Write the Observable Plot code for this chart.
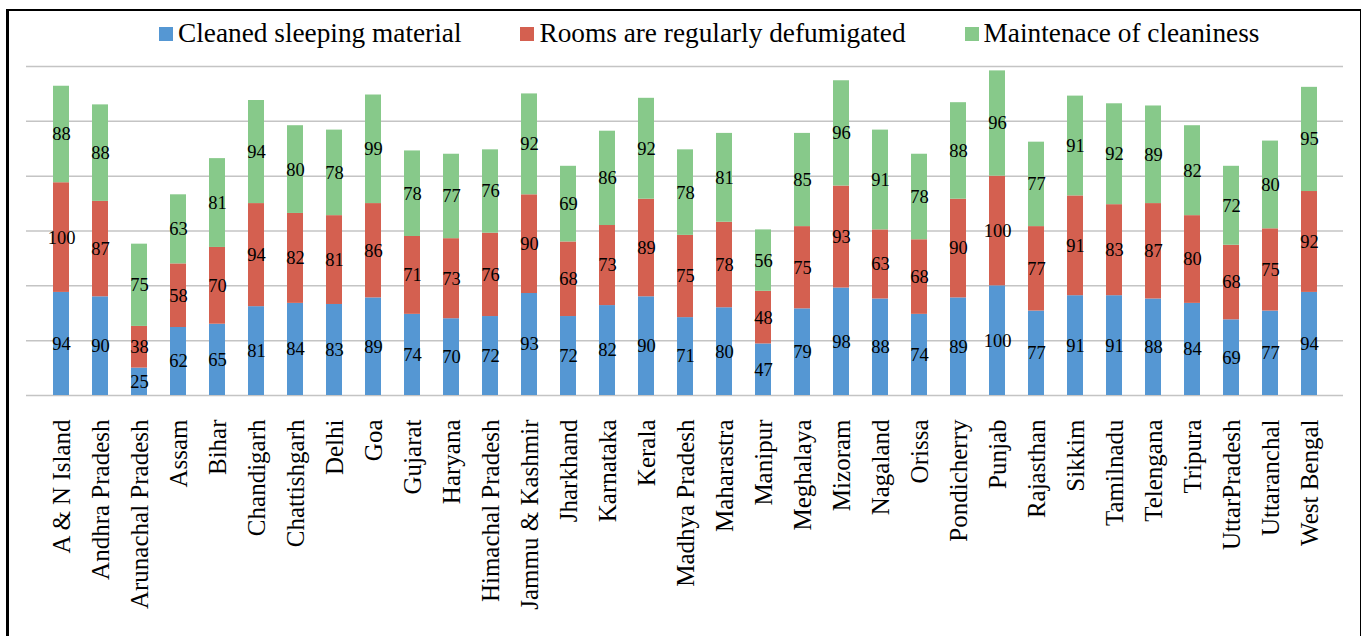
<!DOCTYPE html>
<html>
<head>
<meta charset="utf-8">
<script src="https://cdn.jsdelivr.net/npm/d3@7"></script>
<script src="https://cdn.jsdelivr.net/npm/@observablehq/plot@0.6"></script>
<style>
  html, body { margin: 0; padding: 0; background: #fff; width: 1362px; height: 636px; overflow: hidden; }
  #frame { position: absolute; left: 6px; top: 9px; width: 1355px; height: 660px; border-style: solid; border-color: #000; border-width: 2px 1px 0 3px; box-sizing: border-box; }
  #legend { position: absolute; left: 159px; top: 18px; display: flex; align-items: center; font-family: "Liberation Serif", "Times New Roman", serif; font-size: 27.3px; color: #000; white-space: nowrap; }
  #legend .item { display: flex; align-items: center; margin-right: 59px; }
  #legend .sw { width: 14px; height: 14px; margin-right: 5px; }
  #chart { position: absolute; left: 0; top: 58px; }
</style>
</head>
<body>
<div id="frame"></div>
<div id="legend"></div>
<div id="chart"></div>
<script>
const categories = ["A & N Island","Andhra Pradesh","Arunachal Pradesh","Assam","Bihar","Chandigarh","Chattishgarh","Delhi","Goa","Gujarat","Haryana","Himachal Pradesh","Jammu & Kashmir","Jharkhand","Karnataka","Kerala","Madhya Pradesh","Maharastra","Manipur","Meghalaya","Mizoram","Nagaland","Orissa","Pondicherry","Punjab","Rajasthan","Sikkim","Tamilnadu","Telengana","Tripura","UttarPradesh","Uttaranchal","West Bengal"];
const seriesNames = ["Cleaned sleeping material","Rooms are regularly defumigated","Maintenace of cleaniness"];
const seriesColors = ["#5597d3","#d46050","#87c98a"];
const cleaned = [94,90,25,62,65,81,84,83,89,74,70,72,93,72,82,90,71,80,47,79,98,88,74,89,100,77,91,91,88,84,69,77,94];
const rooms   = [100,87,38,58,70,94,82,81,86,71,73,76,90,68,73,89,75,78,48,75,93,63,68,90,100,77,91,83,87,80,68,75,92];
const maint   = [88,88,75,63,81,94,80,78,99,78,77,76,92,69,86,92,78,81,56,85,96,91,78,88,96,77,91,92,89,82,72,80,95];
const gridTicks = [0,50,100,150,200,250,300];

const seriesValues = [cleaned, rooms, maint];
const data = [];
seriesNames.forEach((s, si) => {
  categories.forEach((c, ci) => data.push({state: c, series: s, value: seriesValues[si][ci]}));
});

const legend = document.getElementById("legend");
seriesNames.forEach((s, i) => {
  const it = document.createElement("div");
  it.className = "item";
  const sw = document.createElement("div");
  sw.className = "sw";
  sw.style.background = seriesColors[i];
  const tx = document.createElement("span");
  tx.textContent = s;
  it.appendChild(sw); it.appendChild(tx);
  legend.appendChild(it);
});

const serif = "'Liberation Serif', 'Times New Roman', serif";
const chart = Plot.plot({
  width: 1362,
  height: 578,
  marginLeft: 26,
  marginRight: 19,
  marginTop: 8,
  marginBottom: 241,
  style: {fontFamily: serif, background: "transparent"},
  x: {domain: categories, paddingInner: 0.6, paddingOuter: 0.3, label: null},
  y: {domain: [0, 300], axis: null},
  color: {domain: seriesNames, range: seriesColors},
  marks: [
    Plot.ruleY(gridTicks, {stroke: "#c4c4c4", strokeWidth: 1.5}),
    Plot.barY(data, Plot.stackY({x: "state", y: "value", fill: "series", order: seriesNames})),
    Plot.text(data, Plot.stackY({x: "state", y: "value", z: "series", text: "value", order: seriesNames, fontSize: 18.5, fontFamily: serif, fill: "#000"})),
    Plot.axisX({tickSize: 0, tickPadding: 24, tickRotate: -90, fontSize: 25, fontFamily: serif, fill: "#000", label: null})
  ]
});
document.getElementById("chart").appendChild(chart);
</script>
</body>
</html>
